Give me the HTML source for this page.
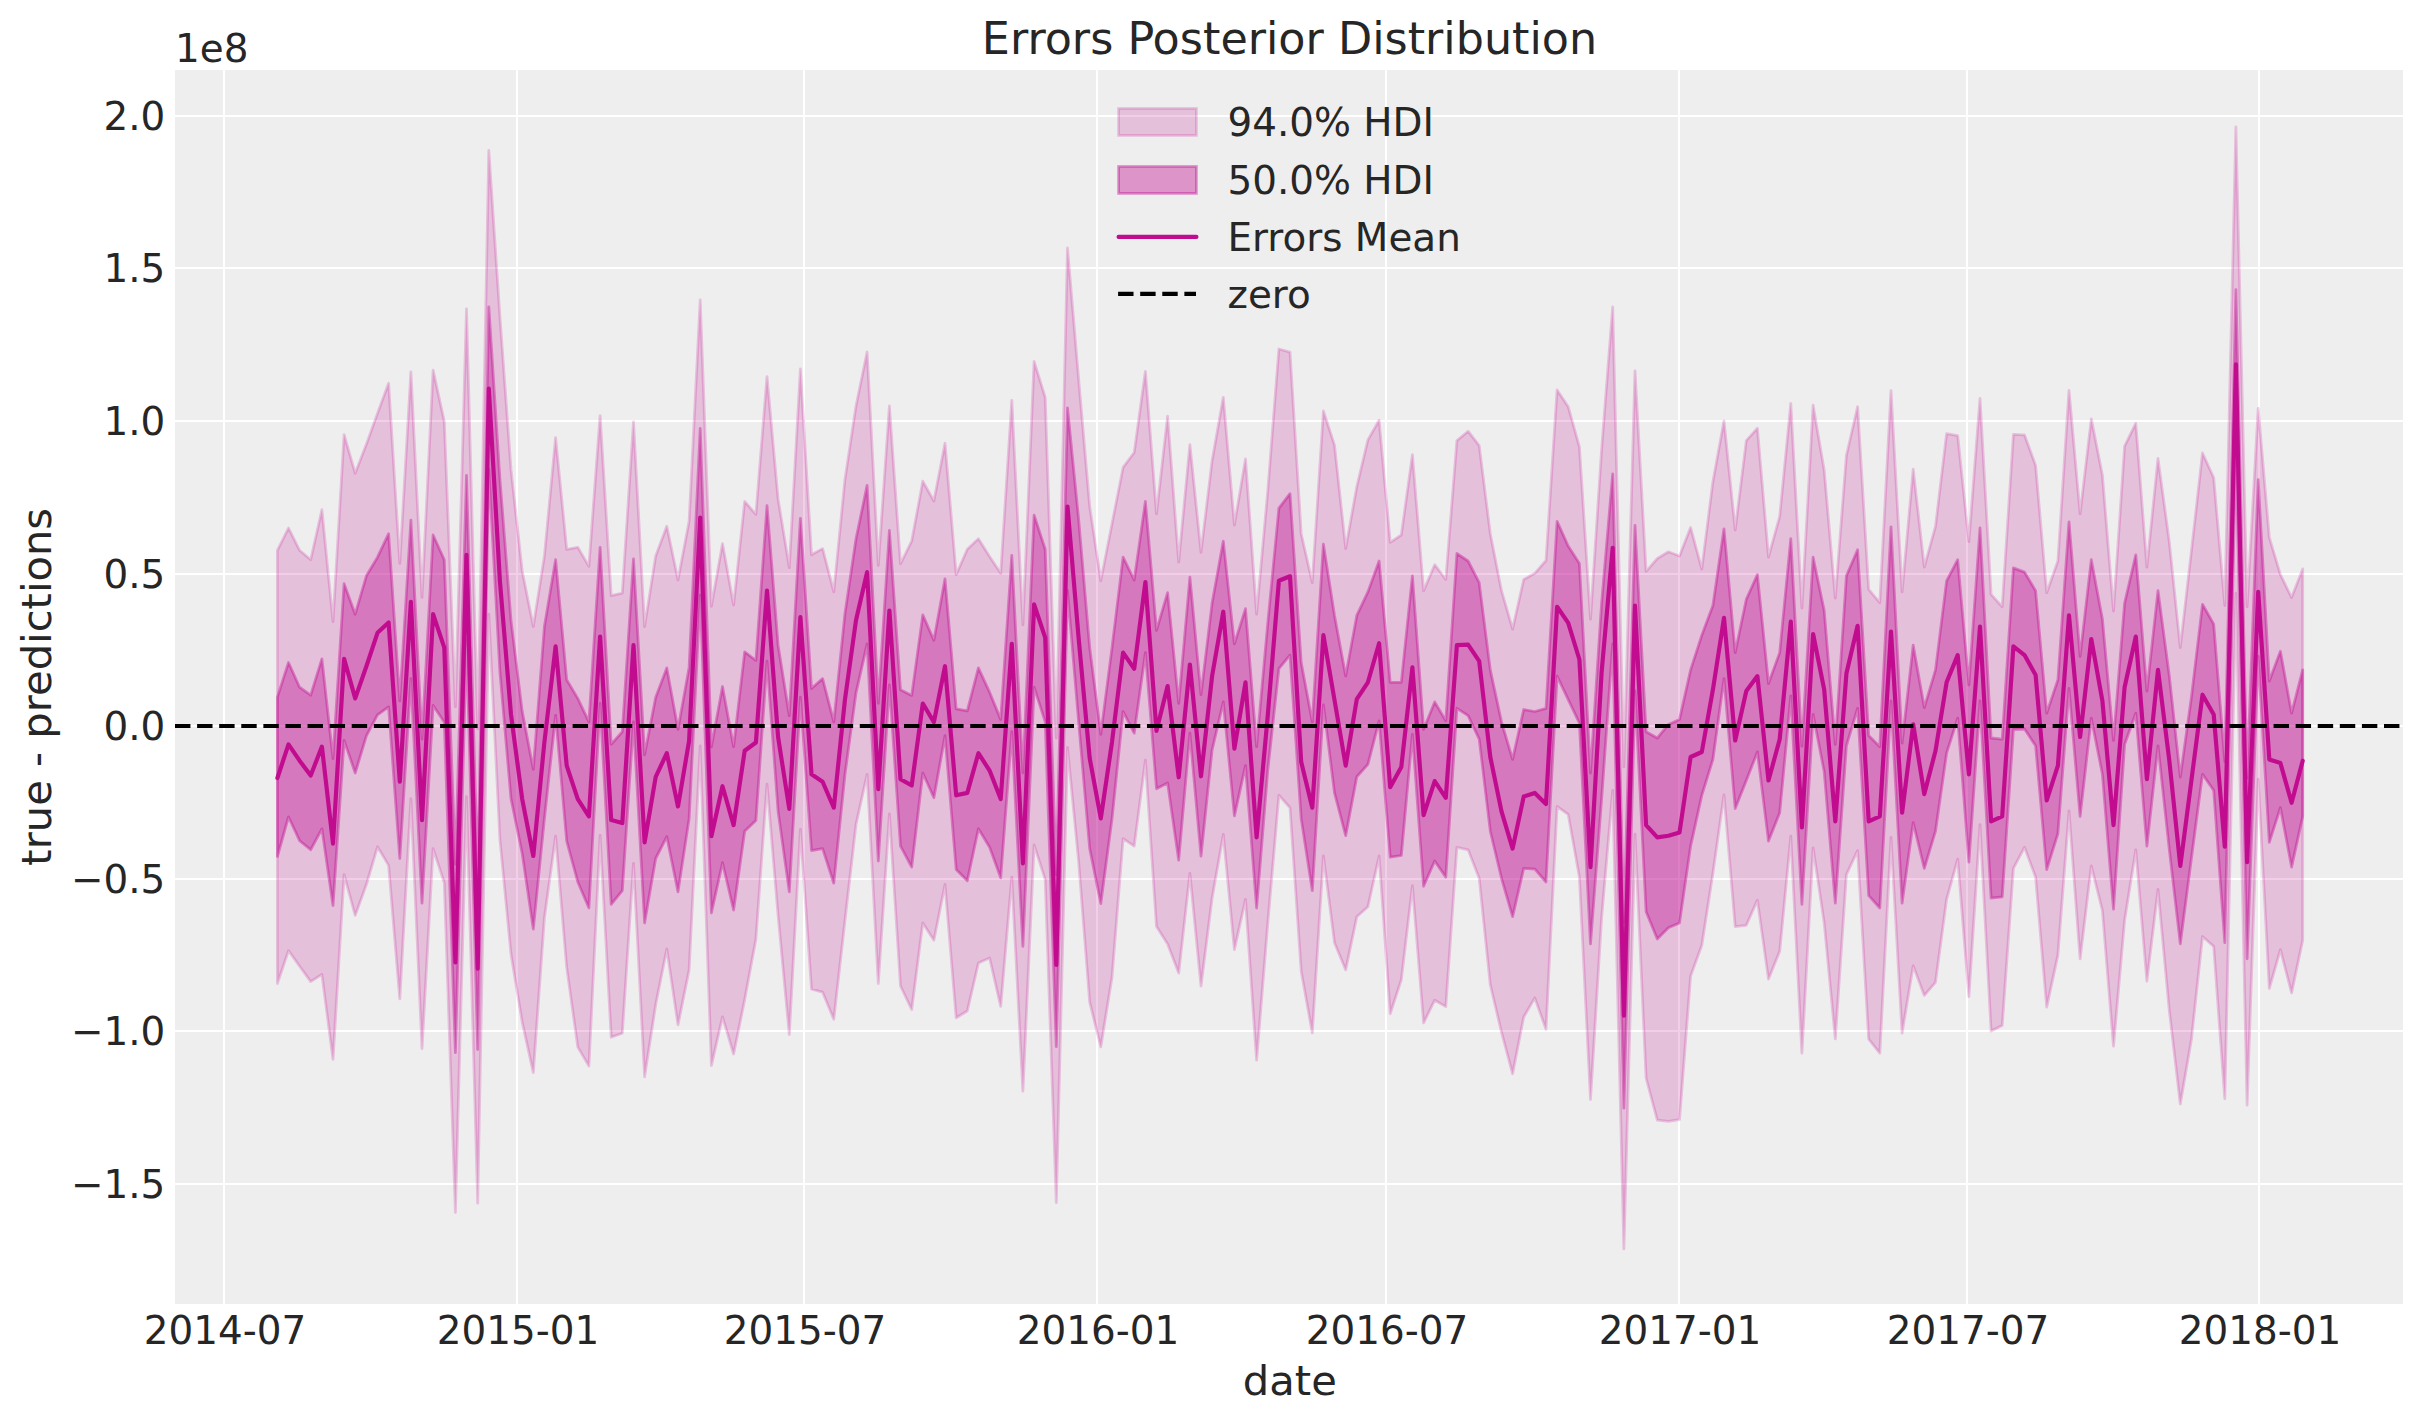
<!DOCTYPE html>
<html><head><meta charset="utf-8"><title>Errors Posterior Distribution</title>
<style>html,body{margin:0;padding:0;background:#fff}svg{display:block}</style></head>
<body>
<svg width="2423" height="1423" viewBox="0 0 2423 1423" font-family="DejaVu Sans, Liberation Sans, sans-serif" fill="#262626">
<rect width="2423" height="1423" fill="#fff"/>
<rect x="175.0" y="70.0" width="2228.0" height="1234.0" fill="#eeeeee"/>
<defs><clipPath id="ax"><rect x="175.0" y="70.0" width="2228.0" height="1234.0"/></clipPath></defs>
<g stroke="#fff" stroke-width="2" clip-path="url(#ax)">
<line x1="224" y1="70.0" x2="224" y2="1304.0"/>
<line x1="517" y1="70.0" x2="517" y2="1304.0"/>
<line x1="804" y1="70.0" x2="804" y2="1304.0"/>
<line x1="1097" y1="70.0" x2="1097" y2="1304.0"/>
<line x1="1386" y1="70.0" x2="1386" y2="1304.0"/>
<line x1="1679" y1="70.0" x2="1679" y2="1304.0"/>
<line x1="1967" y1="70.0" x2="1967" y2="1304.0"/>
<line x1="2259" y1="70.0" x2="2259" y2="1304.0"/>
<line x1="175.0" y1="116.0" x2="2403.0" y2="116.0"/>
<line x1="175.0" y1="268.0" x2="2403.0" y2="268.0"/>
<line x1="175.0" y1="421.0" x2="2403.0" y2="421.0"/>
<line x1="175.0" y1="574.0" x2="2403.0" y2="574.0"/>
<line x1="175.0" y1="726.0" x2="2403.0" y2="726.0"/>
<line x1="175.0" y1="879.0" x2="2403.0" y2="879.0"/>
<line x1="175.0" y1="1031.0" x2="2403.0" y2="1031.0"/>
<line x1="175.0" y1="1184.0" x2="2403.0" y2="1184.0"/>
</g>
<g clip-path="url(#ax)">
<polygon points="277.4,550.3 288.5,528.0 299.6,550.3 310.7,559.7 321.9,509.7 333.0,621.6 344.1,434.6 355.2,473.3 366.4,444.3 377.5,413.4 388.6,383.2 399.8,563.4 410.9,371.8 422.0,597.4 433.1,370.1 444.3,421.6 455.4,706.7 466.5,308.9 477.7,728.9 488.8,150.4 499.9,316.3 511.0,469.4 522.2,570.9 533.3,626.6 544.4,556.0 555.6,437.7 566.7,549.3 577.8,547.3 588.9,566.4 600.1,415.6 611.2,595.6 622.3,593.1 633.5,421.9 644.6,626.6 655.7,556.0 666.8,526.3 678.0,580.0 689.1,521.3 700.2,300.0 711.4,606.3 722.5,543.6 733.6,605.0 744.7,501.5 755.9,514.4 767.0,376.7 778.1,499.1 789.3,567.6 800.4,368.8 811.5,554.8 822.6,548.6 833.8,591.9 844.9,479.9 856.0,406.0 867.1,352.0 878.3,565.4 889.4,406.0 900.5,563.9 911.7,541.1 922.8,481.2 933.9,501.0 945.0,443.2 956.2,574.6 967.3,549.3 978.4,538.7 989.6,556.5 1000.7,573.3 1011.8,400.3 1022.9,624.8 1034.1,361.4 1045.2,397.3 1056.3,738.0 1067.5,248.0 1078.6,378.7 1089.7,506.5 1100.8,580.8 1112.0,523.8 1123.1,467.4 1134.2,452.5 1145.4,371.3 1156.5,513.9 1167.6,416.2 1178.7,562.2 1189.9,444.6 1201.0,552.3 1212.1,460.7 1223.3,397.3 1234.4,525.1 1245.5,458.9 1256.6,614.2 1267.8,490.6 1278.9,349.0 1290.0,352.2 1301.2,533.7 1312.3,582.7 1323.4,411.0 1334.5,445.1 1345.7,548.6 1356.8,486.7 1367.9,439.9 1379.1,420.3 1390.2,542.4 1401.3,535.0 1412.4,454.7 1423.6,590.9 1434.7,564.7 1445.8,579.5 1456.9,440.6 1468.1,431.2 1479.2,445.6 1490.3,533.7 1501.5,590.7 1512.6,629.1 1523.7,579.5 1534.8,573.3 1546.0,560.5 1557.1,389.9 1568.2,406.7 1579.4,446.8 1590.5,619.1 1601.6,449.5 1612.7,306.9 1623.9,766.9 1635.0,370.8 1646.1,571.4 1657.3,558.5 1668.4,551.8 1679.5,556.0 1690.6,527.5 1701.8,569.1 1712.9,481.7 1724.0,420.8 1735.2,530.0 1746.3,440.6 1757.4,428.3 1768.5,557.2 1779.7,516.4 1790.8,403.5 1801.9,608.0 1813.1,405.2 1824.2,470.3 1835.3,598.1 1846.4,455.5 1857.6,406.7 1868.7,589.4 1879.8,602.6 1891.0,390.6 1902.1,591.9 1913.2,469.1 1924.3,567.1 1935.5,526.3 1946.6,433.7 1957.7,435.7 1968.9,541.6 1980.0,398.5 1991.1,594.4 2002.2,606.8 2013.4,434.4 2024.5,434.9 2035.6,465.4 2046.7,592.7 2057.9,561.0 2069.0,390.4 2080.1,513.9 2091.3,418.8 2102.4,475.3 2113.5,611.0 2124.6,446.1 2135.8,423.3 2146.9,567.1 2158.0,458.5 2169.2,541.1 2180.3,647.6 2191.4,551.1 2202.5,453.0 2213.7,477.8 2224.8,605.5 2235.9,127.0 2247.1,606.8 2258.2,408.4 2269.3,537.4 2280.4,574.6 2291.6,597.6 2302.7,568.9 2302.7,940.2 2291.6,992.9 2280.4,949.6 2269.3,988.5 2258.2,779.2 2247.1,1105.2 2235.9,593.1 2224.8,1098.6 2213.7,946.4 2202.5,936.5 2191.4,1039.6 2180.3,1104.0 2169.2,1009.5 2158.0,889.4 2146.9,981.1 2135.8,849.8 2124.6,920.4 2113.5,1046.2 2102.4,910.5 2091.3,865.9 2080.1,958.8 2069.0,810.9 2057.9,955.1 2046.7,1007.1 2035.6,877.1 2024.5,847.3 2013.4,868.4 2002.2,1025.6 1991.1,1031.1 1980.0,824.6 1968.9,996.7 1957.7,859.2 1946.6,899.3 1935.5,982.3 1924.3,995.4 1913.2,965.7 1902.1,1033.1 1891.0,837.4 1879.8,1053.2 1868.7,1039.2 1857.6,850.6 1846.4,874.6 1835.3,1038.8 1824.2,922.9 1813.1,847.8 1801.9,1053.2 1790.8,836.2 1779.7,951.3 1768.5,979.1 1757.4,900.1 1746.3,925.3 1735.2,926.6 1724.0,794.8 1712.9,873.3 1701.8,945.2 1690.6,976.1 1679.5,1119.6 1668.4,1121.3 1657.3,1120.1 1646.1,1078.0 1635.0,834.2 1623.9,1248.9 1612.7,790.4 1601.6,917.9 1590.5,1099.5 1579.4,877.1 1568.2,814.4 1557.1,806.5 1546.0,1029.3 1534.8,997.9 1523.7,1017.0 1512.6,1073.8 1501.5,1032.2 1490.3,984.8 1479.2,878.3 1468.1,849.8 1456.9,847.3 1445.8,1006.6 1434.7,1000.2 1423.6,1022.9 1412.4,885.7 1401.3,979.8 1390.2,1013.7 1379.1,856.0 1367.9,906.8 1356.8,916.7 1345.7,969.9 1334.5,942.7 1323.4,856.0 1312.3,1032.9 1301.2,971.2 1290.0,807.7 1278.9,795.3 1267.8,922.9 1256.6,1060.2 1245.5,899.3 1234.4,949.6 1223.3,834.5 1212.1,898.1 1201.0,986.0 1189.9,873.3 1178.7,973.1 1167.6,943.9 1156.5,926.6 1145.4,760.2 1134.2,846.1 1123.1,838.7 1112.0,977.3 1100.8,1046.9 1089.7,1002.1 1078.6,861.0 1067.5,747.5 1056.3,1202.6 1045.2,879.5 1034.1,844.9 1022.9,1091.1 1011.8,877.1 1000.7,1006.4 989.6,958.0 978.4,963.0 967.3,1011.0 956.2,1017.8 945.0,884.5 933.9,940.2 922.8,922.9 911.7,1009.5 900.5,986.0 889.4,813.9 878.3,983.5 867.1,774.3 856.0,824.5 844.9,921.0 833.8,1019.3 822.6,992.2 811.5,989.2 800.4,829.3 789.3,1034.5 778.1,915.4 767.0,784.2 755.9,939.0 744.7,999.6 733.6,1054.0 722.5,1016.8 711.4,1065.6 700.2,745.8 689.1,969.9 678.0,1024.9 666.8,948.9 655.7,1004.6 644.6,1076.8 633.5,863.4 622.3,1033.2 611.2,1037.2 600.1,835.5 588.9,1066.1 577.8,1047.1 566.7,967.4 555.6,836.2 544.4,917.9 533.3,1072.6 522.2,1022.1 511.0,954.1 499.9,839.2 488.8,614.2 477.7,1203.1 466.5,796.6 455.4,1212.5 444.3,882.7 433.1,848.6 422.0,1048.7 410.9,798.6 399.8,998.9 388.6,865.4 377.5,846.8 366.4,884.5 355.2,915.4 344.1,874.6 333.0,1059.4 321.9,974.4 310.7,981.6 299.6,966.2 288.5,950.6 277.4,983.5" fill="#c10c90" fill-opacity="0.2" stroke="#c10c90" stroke-opacity="0.2" stroke-width="2.78" stroke-linejoin="round"/>
<polygon points="277.4,697.2 288.5,662.5 299.6,687.2 310.7,695.2 321.9,658.8 333.0,758.5 344.1,583.7 355.2,614.2 366.4,575.8 377.5,557.2 388.6,533.7 399.8,700.9 410.9,520.1 422.0,739.2 433.1,535.0 444.3,559.7 455.4,864.2 466.5,475.5 477.7,876.5 488.8,306.9 499.9,479.1 511.0,620.3 522.2,711.3 533.3,769.3 544.4,626.6 555.6,559.7 566.7,679.8 577.8,698.4 588.9,721.9 600.1,547.3 611.2,744.2 622.3,731.8 633.5,559.0 644.6,754.8 655.7,697.2 666.8,667.9 678.0,729.3 689.1,667.4 700.2,428.5 711.4,746.9 722.5,686.5 733.6,746.7 744.7,651.8 755.9,660.5 767.0,505.7 778.1,645.2 789.3,715.7 800.4,518.4 811.5,688.5 822.6,678.6 833.8,721.9 844.9,614.0 856.0,538.7 867.1,485.4 878.3,703.3 889.4,530.5 900.5,689.7 911.7,695.4 922.8,614.9 933.9,640.2 945.0,578.8 956.2,708.8 967.3,710.8 978.4,667.9 989.6,692.2 1000.7,719.4 1011.8,555.5 1022.9,772.8 1034.1,515.1 1045.2,549.3 1056.3,874.6 1067.5,407.9 1078.6,518.9 1089.7,647.6 1100.8,734.3 1112.0,647.6 1123.1,557.2 1134.2,580.0 1145.4,501.5 1156.5,630.3 1167.6,592.7 1178.7,703.3 1189.9,577.1 1201.0,694.7 1212.1,603.1 1223.3,541.1 1234.4,643.9 1245.5,608.7 1256.6,746.7 1267.8,622.9 1278.9,508.2 1290.0,493.6 1301.2,662.5 1312.3,721.9 1323.4,544.1 1334.5,615.4 1345.7,676.1 1356.8,615.4 1367.9,591.9 1379.1,561.0 1390.2,682.3 1401.3,682.3 1412.4,575.8 1423.6,729.3 1434.7,701.9 1445.8,720.7 1456.9,553.5 1468.1,561.0 1479.2,582.7 1490.3,669.9 1501.5,721.9 1512.6,759.4 1523.7,709.5 1534.8,711.5 1546.0,708.3 1557.1,521.3 1568.2,546.1 1579.4,563.4 1590.5,773.0 1601.6,603.1 1612.7,473.8 1623.9,922.1 1635.0,525.5 1646.1,731.8 1657.3,738.0 1668.4,724.4 1679.5,719.4 1690.6,669.9 1701.8,635.2 1712.9,605.5 1724.0,528.8 1735.2,652.6 1746.3,599.3 1757.4,574.6 1768.5,683.5 1779.7,652.6 1790.8,538.7 1801.9,746.2 1813.1,557.2 1824.2,610.5 1835.3,744.4 1846.4,575.8 1857.6,549.8 1868.7,735.5 1879.8,746.7 1891.0,526.8 1902.1,743.0 1913.2,645.2 1924.3,707.6 1935.5,669.9 1946.6,580.8 1957.7,559.7 1968.9,684.8 1980.0,528.0 1991.1,738.0 2002.2,739.2 2013.4,567.9 2024.5,572.1 2035.6,590.7 2046.7,713.2 2057.9,679.8 2069.0,521.8 2080.1,656.3 2091.3,559.7 2102.4,619.1 2113.5,740.4 2124.6,603.1 2135.8,554.8 2146.9,691.0 2158.0,590.7 2169.2,674.9 2180.3,777.1 2191.4,697.2 2202.5,604.3 2213.7,624.1 2224.8,761.4 2235.9,289.6 2247.1,778.0 2258.2,479.7 2269.3,681.1 2280.4,651.3 2291.6,713.2 2302.7,669.9 2302.7,816.4 2291.6,867.1 2280.4,807.7 2269.3,842.4 2258.2,656.4 2247.1,958.8 2235.9,445.4 2224.8,942.7 2213.7,790.4 2202.5,774.3 2191.4,858.5 2180.3,943.9 2169.2,848.6 2158.0,745.8 2146.9,846.1 2135.8,713.2 2124.6,744.6 2113.5,909.2 2102.4,774.3 2091.3,718.2 2080.1,816.4 2069.0,688.5 2057.9,833.7 2046.7,869.6 2035.6,745.8 2024.5,729.0 2013.4,729.5 2002.2,896.9 1991.1,898.1 1980.0,700.9 1968.9,862.2 1957.7,718.2 1946.6,753.2 1935.5,831.2 1924.3,868.4 1913.2,822.6 1902.1,903.1 1891.0,700.9 1879.8,908.0 1868.7,895.6 1857.6,708.3 1846.4,745.8 1835.3,903.1 1824.2,771.8 1813.1,714.5 1801.9,904.3 1790.8,695.9 1779.7,812.7 1768.5,841.1 1757.4,752.0 1746.3,780.5 1735.2,808.5 1724.0,678.6 1712.9,759.4 1701.8,795.3 1690.6,846.1 1679.5,922.9 1668.4,927.8 1657.3,939.0 1646.1,911.7 1635.0,691.0 1623.9,1108.2 1612.7,643.9 1601.6,799.1 1590.5,943.9 1579.4,723.2 1568.2,699.6 1557.1,676.1 1546.0,882.0 1534.8,869.1 1523.7,868.4 1512.6,916.7 1501.5,878.3 1490.3,831.2 1479.2,739.2 1468.1,715.7 1456.9,708.3 1445.8,877.1 1434.7,861.0 1423.6,886.3 1412.4,734.5 1401.3,855.5 1390.2,857.2 1379.1,720.9 1367.9,764.4 1356.8,776.8 1345.7,835.7 1334.5,792.9 1323.4,704.8 1312.3,890.7 1301.2,818.9 1290.0,655.1 1278.9,668.7 1267.8,770.0 1256.6,908.0 1245.5,765.6 1234.4,815.9 1223.3,702.0 1212.1,750.0 1201.0,856.0 1189.9,733.2 1178.7,860.2 1167.6,783.0 1156.5,788.7 1145.4,652.6 1134.2,733.2 1123.1,711.6 1112.0,818.9 1100.8,903.5 1089.7,848.6 1078.6,721.5 1067.5,590.7 1056.3,1046.6 1045.2,721.9 1034.1,687.2 1022.9,946.4 1011.8,731.7 1000.7,877.8 989.6,847.3 978.4,828.8 967.3,880.8 956.2,869.6 945.0,735.7 933.9,797.8 922.8,773.0 911.7,867.1 900.5,846.1 889.4,684.8 878.3,861.0 867.1,643.9 856.0,693.1 844.9,775.0 833.8,883.2 822.6,848.6 811.5,850.6 800.4,697.2 789.3,891.9 778.1,811.4 767.0,661.2 755.9,820.6 744.7,831.2 733.6,910.0 722.5,862.7 711.4,913.0 700.2,595.2 689.1,818.9 678.0,891.9 666.8,836.7 655.7,858.5 644.6,922.9 633.5,721.9 622.3,890.7 611.2,904.3 600.1,703.3 588.9,908.0 577.8,882.0 566.7,841.1 555.6,715.4 544.4,818.9 533.3,929.1 522.2,853.5 511.0,798.8 499.9,671.7 488.8,469.3 477.7,1049.5 466.5,639.6 455.4,1052.7 444.3,722.3 433.1,705.4 422.0,903.1 410.9,678.6 399.8,858.5 388.6,706.9 377.5,714.9 366.4,735.9 355.2,773.0 344.1,740.4 333.0,905.5 321.9,828.8 310.7,849.8 299.6,840.7 288.5,816.9 277.4,856.5" fill="#c10c90" fill-opacity="0.4" stroke="#c10c90" stroke-opacity="0.4" stroke-width="2.78" stroke-linejoin="round"/>
<polyline points="277.4,778.0 288.5,744.4 299.6,760.7 310.7,775.5 321.9,746.6 333.0,843.6 344.1,658.8 355.2,698.4 366.4,666.2 377.5,632.8 388.6,622.4 399.8,781.7 410.9,601.8 422.0,820.1 433.1,614.2 444.3,647.6 455.4,962.5 466.5,554.8 477.7,968.7 488.8,388.6 499.9,580.8 511.0,714.5 522.2,799.1 533.3,856.0 544.4,742.1 555.6,646.4 566.7,765.6 577.8,799.1 588.9,816.4 600.1,636.5 611.2,820.1 622.3,823.1 633.5,645.2 644.6,842.4 655.7,776.8 666.8,753.2 678.0,806.5 689.1,740.9 700.2,517.6 711.4,836.2 722.5,786.2 733.6,825.1 744.7,750.8 755.9,742.5 767.0,590.7 778.1,737.1 789.3,809.0 800.4,617.2 811.5,774.3 822.6,781.7 833.8,807.7 844.9,700.0 856.0,620.3 867.1,572.1 878.3,789.1 889.4,610.5 900.5,779.2 911.7,785.4 922.8,703.5 933.9,722.1 945.0,666.2 956.2,795.3 967.3,792.9 978.4,753.2 989.6,770.6 1000.7,799.1 1011.8,643.9 1022.9,863.4 1034.1,604.3 1045.2,637.7 1056.3,965.0 1067.5,506.5 1078.6,637.7 1089.7,758.2 1100.8,818.4 1112.0,742.1 1123.1,652.6 1134.2,668.7 1145.4,582.0 1156.5,730.8 1167.6,686.0 1178.7,777.3 1189.9,664.5 1201.0,776.3 1212.1,676.0 1223.3,611.7 1234.4,748.7 1245.5,682.3 1256.6,837.4 1267.8,715.0 1278.9,580.8 1290.0,576.3 1301.2,761.9 1312.3,807.7 1323.4,635.2 1334.5,700.0 1345.7,765.6 1356.8,699.2 1367.9,682.3 1379.1,643.2 1390.2,787.2 1401.3,766.9 1412.4,667.4 1423.6,815.1 1434.7,781.1 1445.8,797.8 1456.9,645.2 1468.1,644.7 1479.2,661.2 1490.3,757.0 1501.5,811.4 1512.6,848.6 1523.7,796.6 1534.8,792.9 1546.0,804.0 1557.1,606.8 1568.2,622.9 1579.4,659.5 1590.5,867.1 1601.6,672.4 1612.7,547.8 1623.9,1015.7 1635.0,605.5 1646.1,825.1 1657.3,837.4 1668.4,835.7 1679.5,832.5 1690.6,757.0 1701.8,752.0 1712.9,689.7 1724.0,617.9 1735.2,740.5 1746.3,691.0 1757.4,676.1 1768.5,780.5 1779.7,739.2 1790.8,621.6 1801.9,827.5 1813.1,634.0 1824.2,689.7 1835.3,821.3 1846.4,673.6 1857.6,625.8 1868.7,821.3 1879.8,816.4 1891.0,631.5 1902.1,812.7 1913.2,724.4 1924.3,794.1 1935.5,750.8 1946.6,682.3 1957.7,655.1 1968.9,774.3 1980.0,626.6 1991.1,821.3 2002.2,816.4 2013.4,646.4 2024.5,655.1 2035.6,674.9 2046.7,800.3 2057.9,765.6 2069.0,615.4 2080.1,737.0 2091.3,639.0 2102.4,700.9 2113.5,825.1 2124.6,687.2 2135.8,636.5 2146.9,779.2 2158.0,669.9 2169.2,759.4 2180.3,865.9 2191.4,780.5 2202.5,694.7 2213.7,714.5 2224.8,846.6 2235.9,364.4 2247.1,862.2 2258.2,591.9 2269.3,759.4 2280.4,763.1 2291.6,802.8 2302.7,760.7" fill="none" stroke="#c10c90" stroke-width="4.17" stroke-linejoin="round" stroke-linecap="round"/>
<line x1="175.0" y1="726.0" x2="2403.0" y2="726.0" stroke="#000" stroke-width="4.17" stroke-dasharray="15.42 6.67"/>
</g>
<rect x="1118.6" y="108.5" width="77.80000000000018" height="26.9" fill="#c10c90" fill-opacity="0.2" stroke="#c10c90" stroke-opacity="0.2" stroke-width="2.78"/>
<rect x="1118.6" y="166.5" width="77.80000000000018" height="26.9" fill="#c10c90" fill-opacity="0.4" stroke="#c10c90" stroke-opacity="0.4" stroke-width="2.78"/>
<line x1="1118.6" y1="236.9" x2="1196.4" y2="236.9" stroke="#c10c90" stroke-width="4.17" stroke-linecap="round"/>
<line x1="1118.1" y1="293.9" x2="1196.0" y2="293.9" stroke="#000" stroke-width="4.17" stroke-dasharray="15.42 6.67"/>
<text x="1227.5" y="136.2" font-size="38.89">94.0% HDI</text>
<text x="1227.5" y="193.5" font-size="38.89">50.0% HDI</text>
<text x="1227.5" y="250.8" font-size="38.89">Errors Mean</text>
<text x="1227.5" y="308.0" font-size="38.89">zero</text>
<text x="225" y="1344" font-size="38.89" text-anchor="middle">2014-07</text>
<text x="518" y="1344" font-size="38.89" text-anchor="middle">2015-01</text>
<text x="805" y="1344" font-size="38.89" text-anchor="middle">2015-07</text>
<text x="1098" y="1344" font-size="38.89" text-anchor="middle">2016-01</text>
<text x="1387" y="1344" font-size="38.89" text-anchor="middle">2016-07</text>
<text x="1680" y="1344" font-size="38.89" text-anchor="middle">2017-01</text>
<text x="1968" y="1344" font-size="38.89" text-anchor="middle">2017-07</text>
<text x="2260" y="1344" font-size="38.89" text-anchor="middle">2018-01</text>
<text x="165.3" y="130.3" font-size="38.89" text-anchor="end">2.0</text>
<text x="165.3" y="282.3" font-size="38.89" text-anchor="end">1.5</text>
<text x="165.3" y="435.3" font-size="38.89" text-anchor="end">1.0</text>
<text x="165.3" y="588.3" font-size="38.89" text-anchor="end">0.5</text>
<text x="165.3" y="740.3" font-size="38.89" text-anchor="end">0.0</text>
<text x="165.3" y="893.3" font-size="38.89" text-anchor="end">−0.5</text>
<text x="165.3" y="1045.3" font-size="38.89" text-anchor="end">−1.0</text>
<text x="165.3" y="1198.3" font-size="38.89" text-anchor="end">−1.5</text>
<text x="175" y="62.1" font-size="38.89">1e8</text>
 <text x="1289.5" y="53.6" font-size="44.44" text-anchor="middle">Errors Posterior Distribution</text>
<text x="1289.8" y="1395" font-size="41.67" text-anchor="middle">date</text>
<text transform="translate(50.8 686.8) rotate(-90)" font-size="41.67" text-anchor="middle">true - predictions</text>
</svg>
</body></html>
